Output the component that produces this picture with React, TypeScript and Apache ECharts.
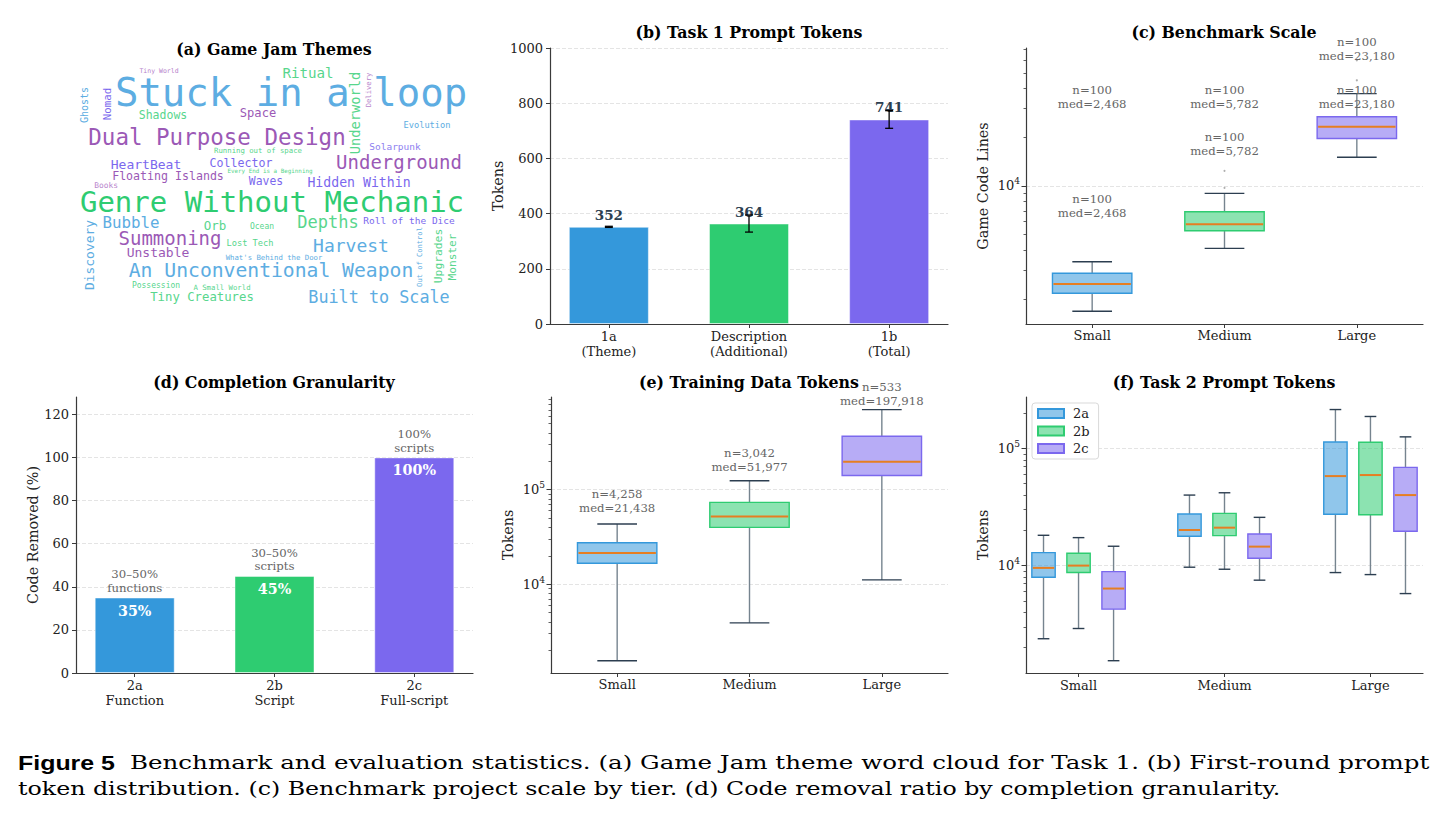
import React, { useEffect, useRef } from 'react';
import * as echarts from 'echarts';

const SERIF = '"DejaVu Serif", serif';
const MONO = '"DejaVu Sans Mono", monospace';

const BLUE = '#3498db';
const GREEN = '#2ecc71';
const PURPLE = '#7b68ee';
const BAR_COLORS = [BLUE, GREEN, PURPLE];
const BOX_EDGES = [BLUE, GREEN, PURPLE];
const BOX_FILLS = ['rgba(52,152,219,0.55)', 'rgba(46,204,113,0.55)', 'rgba(123,104,238,0.55)'];
const MEDIAN = '#e67e22';
const WHISKER = '#76848f';
const CAP = '#2c3e50';
const NOTE = '#666666';
const AXIS = '#3a3a3a';
const GRIDLINE = '#e4e4e4';

// (a) Game Jam themes
const themeWords = [
  'Stuck in a loop', 'Genre Without Mechanic', 'Dual Purpose Design', 'An Unconventional Weapon',
  'Underground', 'Summoning', 'Harvest', 'Built to Scale', 'Depths', 'Bubble', 'Ritual', 'Underworld',
  'Hidden Within', 'HeartBeat', 'Unstable', 'Discovery', 'Orb', 'Tiny Creatures', 'Space', 'Collector',
  'Floating Islands', 'Shadows', 'Waves', 'Upgrades', 'Monster', 'Nomad', 'Ghosts', 'Solarpunk',
  'Roll of the Dice', 'Evolution', 'Lost Tech', 'Possession', 'Ocean', 'Books', 'Running out of space',
  "What's Behind the Door", 'A Small World', 'Delivery', 'Out of Control', 'Tiny World', 'Every End is a Beginning',
];
// word cloud placement: [centre x, centre y, font size, colour, vertical]
const CB = '#5dade2', CG = '#2ecc71', CL = '#58d68d', CP = '#9b59b6', CV = '#7b68ee', CPL = '#b784cc', CVL = '#8e80f0';
const cloudPlacement: [number, number, number, string, boolean][] = [
  [291, 92, 39, CB, false], [272, 202, 29, CG, false], [217, 137, 22.5, CP, false], [271, 270, 19.7, CB, false],
  [399, 162, 19, CP, false], [170, 238, 19, CP, false], [351, 245, 18, CB, false], [379, 297, 16.8, CB, false],
  [328, 222, 17, CL, false], [131, 222, 15.8, CB, false], [308, 73, 14.2, CL, false], [355, 113, 13.7, CL, true],
  [359, 182, 13.2, CV, false], [146, 164, 13, CV, false], [158, 252, 13, CP, false], [89, 255, 12.9, CB, true],
  [215, 225, 12.5, CL, false], [202, 297, 12.3, CL, false], [258, 113, 12.1, CP, false], [241, 163, 11.6, CV, false],
  [168, 176, 11.6, CP, false], [163, 115, 11.5, CL, false], [266, 181, 11.4, CV, false], [438, 256, 11.3, CL, true],
  [452, 257, 11.2, CL, true], [107, 104, 10.8, CV, true], [84, 105, 10, CB, true], [395, 146, 9.5, CVL, false],
  [409, 220, 9.5, CV, false], [427, 125, 8.7, CB, false], [250, 243, 8.7, CL, false], [156, 285, 8, CL, false],
  [262, 226, 8, CL, false], [106, 185, 7.9, CPL, false], [258, 150, 7.3, CL, false], [274, 257, 7.3, CB, false],
  [222, 287, 7.3, CL, false], [368, 90, 7.2, CPL, true], [419, 257, 7.1, CB, true], [159, 71, 6.5, CPL, false],
  [270, 171, 5.9, CL, false],
];

// (b) Task 1 prompt tokens
const task1Categories = ['1a\n(Theme)', 'Description\n(Additional)', '1b\n(Total)'];
const task1Means = [352, 364, 741];
const task1Err = [2, 31, 32];

// (c) Benchmark scale: [low whisker, Q1, median, Q3, high whisker]
const tiers = ['Small', 'Medium', 'Large'];
const codeLinesBox = [
  [1675, 2163, 2468, 2876, 3390],
  [4103, 5270, 5782, 6918, 8975],
  [15040, 19630, 23180, 26740, 37240],
];
const codeLinesOutliers: [number, number][] = [[1, 9720], [1, 12380], [2, 45000], [2, 59800]];
const codeLinesN = [100, 100, 100];
const codeLinesNoteAt = [6140, 14830, 57250];
const codeLinesHeaderAt = 28970;

// (d) Completion granularity
const granularityCats = ['2a\nFunction', '2b\nScript', '2c\nFull-script'];
const removedPct = [35, 45, 100];
const removedNotes = ['30–50%\nfunctions', '30–50%\nscripts', '100%\nscripts'];

// (e) Training data tokens
const trainBox = [
  [1549, 16660, 21438, 27500, 43350],
  [3900, 40000, 51977, 73450, 124500],
  [11100, 141300, 197918, 368000, 704600],
];
const trainN = [4258, 3042, 533];
const trainNoteAt = [54000, 146500, 729000];

// (f) Task 2 prompt tokens
const task2Names = ['2a', '2b', '2c'];
const task2aBox = [
  [2375, 7960, 9560, 12910, 18150],
  [9690, 17800, 20140, 27560, 40000],
  [8720, 27400, 58100, 113700, 214900],
];
const task2bBox = [
  [2904, 8720, 10000, 12760, 17330],
  [9310, 18020, 21080, 27930, 41860],
  [8380, 27200, 59300, 113000, 187500],
];
const task2cBox = [
  [1542, 4250, 6370, 8890, 14630],
  [7510, 11560, 14520, 18620, 25820],
  [5770, 19630, 40000, 68900, 125600],
];
const task2Offsets = [-0.24, 0, 0.24];

const CAPTION_LEAD = 'Figure 5';
const CAPTION_LINE1 = 'Benchmark and evaluation statistics. (a) Game Jam theme word cloud for Task 1. (b) First-round prompt';
const CAPTION_LINE2 = 'token distribution. (c) Benchmark project scale by tier. (d) Code removal ratio by completion granularity.';

const fmt = (v: number) => v.toLocaleString('en-US');

function measure(text: string, font: string): number {
  const ctx = document.createElement('canvas').getContext('2d');
  if (!ctx) return 1;
  ctx.font = font;
  return ctx.measureText(text).width || 1;
}

function minorLogTicks(lo: number, hi: number): number[] {
  const out: number[] = [];
  for (let p = Math.floor(Math.log10(lo)); p <= Math.ceil(Math.log10(hi)); p++) {
    for (let m = 2; m <= 9; m++) {
      const v = m * Math.pow(10, p);
      if (v >= lo && v <= hi) out.push(v);
    }
  }
  return out;
}

const axisLine = { show: true, onZero: false, lineStyle: { color: AXIS, width: 1.2 } };
const tickLabel = { color: '#222', fontFamily: SERIF, fontSize: 13 };
const nameStyle = { fontFamily: SERIF, fontSize: 14.3, color: '#222' };
const splitDashed = { show: true, lineStyle: { color: GRIDLINE, type: 'dashed' as const, width: 1 } };

function valueCatAxis(gridIndex: number, min: number, max: number, labels: string[]) {
  return {
    type: 'value', gridIndex, min, max,
    axisLine,
    axisTick: { show: true, length: 4, lineStyle: { color: AXIS }, customValues: [0, 1, 2] },
    axisLabel: { ...tickLabel, customValues: [0, 1, 2], margin: 5, lineHeight: 15, formatter: (v: number) => labels[Math.round(v)] },
    splitLine: { show: false },
  };
}

function logAxes(gridIndex: number, min: number, max: number, majors: number[], name: string, nameGap: number) {
  return [
    {
      type: 'log', logBase: 10, gridIndex, min, max, position: 'left',
      name, nameLocation: 'middle', nameGap, nameTextStyle: nameStyle,
      axisLine,
      axisTick: { show: true, length: 4.5, lineStyle: { color: AXIS }, customValues: majors },
      axisLabel: {
        customValues: majors, margin: 6,
        formatter: (v: number) => `{b|10}{s|${Math.round(Math.log10(v))}}`,
        rich: {
          b: { fontFamily: SERIF, fontSize: 13, color: '#222', lineHeight: 18 },
          s: { fontFamily: SERIF, fontSize: 9, color: '#222', lineHeight: 10, verticalAlign: 'top' },
        },
      },
      splitLine: splitDashed,
    },
    {
      type: 'log', logBase: 10, gridIndex, min, max, position: 'left',
      axisLine: { show: false, onZero: false },
      axisTick: { show: true, length: 2.5, lineStyle: { color: AXIS, width: 0.8 }, customValues: minorLogTicks(min, max) },
      axisLabel: { show: false },
      splitLine: { show: false },
    },
  ];
}

// Box-and-whisker glyph drawn through the axes of the hosting grid.
function boxRenderer(edgeOf: (i: number) => string, fillOf: (i: number) => string, offset: number, widthUnits: number | null) {
  return (params: any, api: any) => {
    const xv = api.value(0);
    const lo = api.value(1), q1 = api.value(2), md = api.value(3), q3 = api.value(4), hi = api.value(5);
    const pos = (v: number) => api.coord([xv + offset, v]);
    const cx = pos(md)[0];
    const w = widthUnits == null
      ? api.size([1, 0], [xv, 1000])[0] * 0.6
      : api.size([widthUnits, 0], [xv + offset, 1000])[0];
    const yLo = pos(lo)[1], yQ1 = pos(q1)[1], yMd = pos(md)[1], yQ3 = pos(q3)[1], yHi = pos(hi)[1];
    const i = params.dataIndex;
    const line = (x1: number, y1: number, x2: number, y2: number, stroke: string, lineWidth: number) =>
      ({ type: 'line', shape: { x1, y1, x2, y2 }, style: { stroke, lineWidth } });
    return {
      type: 'group',
      children: [
        line(cx, yLo, cx, yQ1, WHISKER, 1.4),
        line(cx, yQ3, cx, yHi, WHISKER, 1.4),
        line(cx - w / 4, yLo, cx + w / 4, yLo, CAP, 1.4),
        line(cx - w / 4, yHi, cx + w / 4, yHi, CAP, 1.4),
        { type: 'rect', shape: { x: cx - w / 2, y: yQ3, width: w, height: yQ1 - yQ3 }, style: { fill: fillOf(i), stroke: edgeOf(i), lineWidth: 1.4 } },
        line(cx - w / 2 + 1, yMd, cx + w / 2 - 1, yMd, MEDIAN, 2),
      ],
    };
  };
}

function noteRenderer(textOf: (i: number) => string, lift: number, lineHeight: number) {
  return (params: any, api: any) => {
    const p = api.coord([api.value(0), api.value(1)]);
    return {
      type: 'text', x: p[0], y: p[1] - lift,
      style: {
        text: textOf(params.dataIndex), font: `11.7px ${SERIF}`, fill: NOTE, lineHeight,
        align: 'center', verticalAlign: 'bottom', textAlign: 'center', textVerticalAlign: 'bottom',
      },
    };
  };
}

function textEl(text: string, x: number, y: number, font: string, fill: string, extra: any = {}) {
  return {
    type: 'text', x, y, silent: true, ...extra,
    style: { text, font, fill, align: 'center', verticalAlign: 'middle', textAlign: 'center', textVerticalAlign: 'middle' },
  };
}

function buildOption() {
  const titleFont = `bold 15.8px ${SERIF}`;
  const titles = [
    textEl('(a) Game Jam Themes', 274, 49, titleFont, '#000'),
    textEl('(b) Task 1 Prompt Tokens', 749, 32, titleFont, '#000'),
    textEl('(c) Benchmark Scale', 1224, 32, titleFont, '#000'),
    textEl('(d) Completion Granularity', 274, 382, titleFont, '#000'),
    textEl('(e) Training Data Tokens', 749, 382, titleFont, '#000'),
    textEl('(f) Task 2 Prompt Tokens', 1224, 382, titleFont, '#000'),
  ];

  const cloud = themeWords.map((w, i) => {
    const [x, y, size, color, vertical] = cloudPlacement[i];
    return textEl(w, x, y, `${size}px ${MONO}`, color, { rotation: vertical ? Math.PI / 2 : 0 });
  });

  const leadFont = 'bold 20px "Liberation Sans", sans-serif';
  const capFont = `19px ${SERIF}`;
  const leadScale = 97 / measure(CAPTION_LEAD, leadFont);
  const line1Scale = 1300 / measure(CAPTION_LINE1, capFont);
  const line2Scale = 1263 / measure(CAPTION_LINE2, capFont);
  const capEl = (text: string, x: number, y: number, font: string, scaleX: number) => ({
    type: 'text', x, y, scaleX, silent: true,
    style: { text, font, fill: '#000', align: 'left', verticalAlign: 'middle', textAlign: 'left', textVerticalAlign: 'middle' },
  });
  const caption = [
    capEl(CAPTION_LEAD, 18, 763, leadFont, leadScale),
    capEl(CAPTION_LINE1, 130, 763, capFont, line1Scale),
    capEl(CAPTION_LINE2, 18, 788, capFont, line2Scale),
  ];

  const task2Boxes = [task2aBox, task2bBox, task2cBox];

  return {
    animation: false,
    backgroundColor: '#ffffff',
    textStyle: { fontFamily: SERIF },
    grid: [
      { left: 550, top: 48, width: 398, height: 276 },
      { left: 1026, top: 48, width: 397, height: 276 },
      { left: 76, top: 397, width: 397, height: 276 },
      { left: 551, top: 397, width: 397, height: 276 },
      { left: 1026, top: 397, width: 397, height: 276 },
    ],
    legend: {
      data: task2Names, orient: 'vertical', left: 1032, top: 403, selectedMode: false,
      icon: 'rect', itemWidth: 26, itemHeight: 9, itemGap: 4.5,
      padding: [4, 9, 4, 5],
      backgroundColor: '#ffffff', borderColor: '#d9d9d9', borderWidth: 1, borderRadius: 3,
      textStyle: { fontFamily: SERIF, fontSize: 13, color: '#222', padding: [0, 0, 0, 4] },
    },
    xAxis: [
      valueCatAxis(0, -0.42, 2.42, task1Categories),
      { type: 'category', gridIndex: 1, data: tiers, axisLine, axisTick: { show: true, length: 4, alignWithLabel: true, lineStyle: { color: AXIS } }, axisLabel: { ...tickLabel, margin: 5 }, splitLine: { show: false } },
      valueCatAxis(2, -0.42, 2.42, granularityCats),
      { type: 'category', gridIndex: 3, data: tiers, axisLine, axisTick: { show: true, length: 4, alignWithLabel: true, lineStyle: { color: AXIS } }, axisLabel: { ...tickLabel, margin: 5 }, splitLine: { show: false } },
      valueCatAxis(4, -0.36, 2.36, tiers),
    ],
    yAxis: [
      {
        type: 'value', gridIndex: 0, min: 0, max: 1000, interval: 200,
        name: 'Tokens', nameLocation: 'middle', nameGap: 45, nameTextStyle: nameStyle,
        axisLine, axisTick: { show: true, length: 4, lineStyle: { color: AXIS } },
        axisLabel: { ...tickLabel, margin: 7, formatter: (v: number) => String(v) }, splitLine: splitDashed,
      },
      ...logAxes(1, 1396, 71300, [10000], 'Game Code Lines', 36),
      {
        type: 'value', gridIndex: 2, min: 0, max: 128,
        name: 'Code Removed (%)', nameLocation: 'middle', nameGap: 36, nameTextStyle: nameStyle,
        axisLine, axisTick: { show: true, length: 4, lineStyle: { color: AXIS }, customValues: [0, 20, 40, 60, 80, 100, 120] },
        axisLabel: { ...tickLabel, margin: 7, customValues: [0, 20, 40, 60, 80, 100, 120] }, splitLine: splitDashed,
      },
      ...logAxes(3, 1148, 959000, [10000, 100000], 'Tokens', 36),
      ...logAxes(4, 1211, 275000, [10000, 100000], 'Tokens', 36),
    ],
    series: [
      // (b)
      {
        type: 'bar', xAxisIndex: 0, yAxisIndex: 0, barWidth: 80,
        data: task1Means.map((v, i) => ({ value: [i, v], itemStyle: { color: BAR_COLORS[i], borderColor: 'rgba(255,255,255,0.45)', borderWidth: 1 } })),
        label: { show: true, position: 'top', distance: 5, fontFamily: SERIF, fontSize: 13.5, fontWeight: 'bold', color: '#2c3e50', formatter: (p: any) => String(p.value[1]) },
      },
      {
        type: 'custom', xAxisIndex: 0, yAxisIndex: 0, z: 5,
        data: task1Means.map((v, i) => [i, v, task1Err[i]]),
        encode: { x: 0, y: 1 },
        renderItem: (params: any, api: any) => {
          const x = api.value(0), v = api.value(1), e = api.value(2);
          const a = api.coord([x, v - e]), b = api.coord([x, v + e]);
          const s = { stroke: '#000', lineWidth: 1.3 };
          return {
            type: 'group', children: [
              { type: 'line', shape: { x1: a[0], y1: a[1], x2: b[0], y2: b[1] }, style: s },
              { type: 'line', shape: { x1: a[0] - 4, y1: a[1], x2: a[0] + 4, y2: a[1] }, style: s },
              { type: 'line', shape: { x1: b[0] - 4, y1: b[1], x2: b[0] + 4, y2: b[1] }, style: s },
            ],
          };
        },
      },
      // (c)
      {
        type: 'custom', xAxisIndex: 1, yAxisIndex: 1,
        data: codeLinesBox.map((b, i) => [i, ...b]),
        encode: { x: 0, y: [1, 2, 3, 4, 5] },
        renderItem: boxRenderer((i) => BOX_EDGES[i], (i) => BOX_FILLS[i], 0, null),
      },
      {
        type: 'scatter', xAxisIndex: 1, yAxisIndex: 1, symbolSize: 2.2,
        itemStyle: { color: '#9a9a9a' }, data: codeLinesOutliers,
      },
      {
        type: 'custom', xAxisIndex: 1, yAxisIndex: 1, z: 6,
        data: [...codeLinesNoteAt.map((v, i) => [i, v]), ...tiers.map((_, i) => [i, codeLinesHeaderAt])],
        encode: { x: 0, y: 1 },
        renderItem: noteRenderer((k) => {
          const i = k % 3;
          return `n=${fmt(codeLinesN[i])}\nmed=${fmt(codeLinesBox[i][2])}`;
        }, 0, 14),
      },
      // (d)
      {
        type: 'bar', xAxisIndex: 2, yAxisIndex: 3, barWidth: 80,
        data: removedPct.map((v, i) => ({ value: [i, v], itemStyle: { color: BAR_COLORS[i], borderColor: 'rgba(255,255,255,0.45)', borderWidth: 1 } })),
        label: { show: true, position: 'insideTop', distance: 6, fontFamily: SERIF, fontSize: 14.3, fontWeight: 'bold', color: '#ffffff', formatter: (p: any) => `${p.value[1]}%` },
      },
      {
        type: 'custom', xAxisIndex: 2, yAxisIndex: 3,
        data: removedPct.map((v, i) => [i, v]),
        encode: { x: 0, y: 1 },
        renderItem: noteRenderer((i) => removedNotes[i], 3, 13.5),
      },
      // (e)
      {
        type: 'custom', xAxisIndex: 3, yAxisIndex: 4,
        data: trainBox.map((b, i) => [i, ...b]),
        encode: { x: 0, y: [1, 2, 3, 4, 5] },
        renderItem: boxRenderer((i) => BOX_EDGES[i], (i) => BOX_FILLS[i], 0, null),
      },
      {
        type: 'custom', xAxisIndex: 3, yAxisIndex: 4, z: 6,
        data: trainNoteAt.map((v, i) => [i, v]),
        encode: { x: 0, y: 1 },
        renderItem: noteRenderer((i) => `n=${fmt(trainN[i])}\nmed=${fmt(trainBox[i][2])}`, 0, 14),
      },
      // (f)
      ...task2Names.map((name, s) => ({
        type: 'custom', name, xAxisIndex: 4, yAxisIndex: 6,
        itemStyle: { color: BOX_FILLS[s], borderColor: BOX_EDGES[s], borderWidth: 1.4 },
        data: task2Boxes[s].map((b, g) => [g, ...b]),
        encode: { x: 0, y: [1, 2, 3, 4, 5] },
        renderItem: boxRenderer(() => BOX_EDGES[s], () => BOX_FILLS[s], task2Offsets[s], 0.16),
      })),
    ],
    graphic: { elements: [...titles, ...cloud, ...caption] },
  };
}

export default function App() {
  const ref = useRef<HTMLDivElement>(null);
  useEffect(() => {
    if (!ref.current) return;
    const chart = echarts.init(ref.current, null, { renderer: 'svg' });
    chart.setOption(buildOption() as any);
    return () => chart.dispose();
  }, []);
  return (
    <div
      ref={ref}
      style={{ position: 'fixed', left: 0, top: 0, width: 1446, height: 822, background: '#ffffff' }}
    />
  );
}
